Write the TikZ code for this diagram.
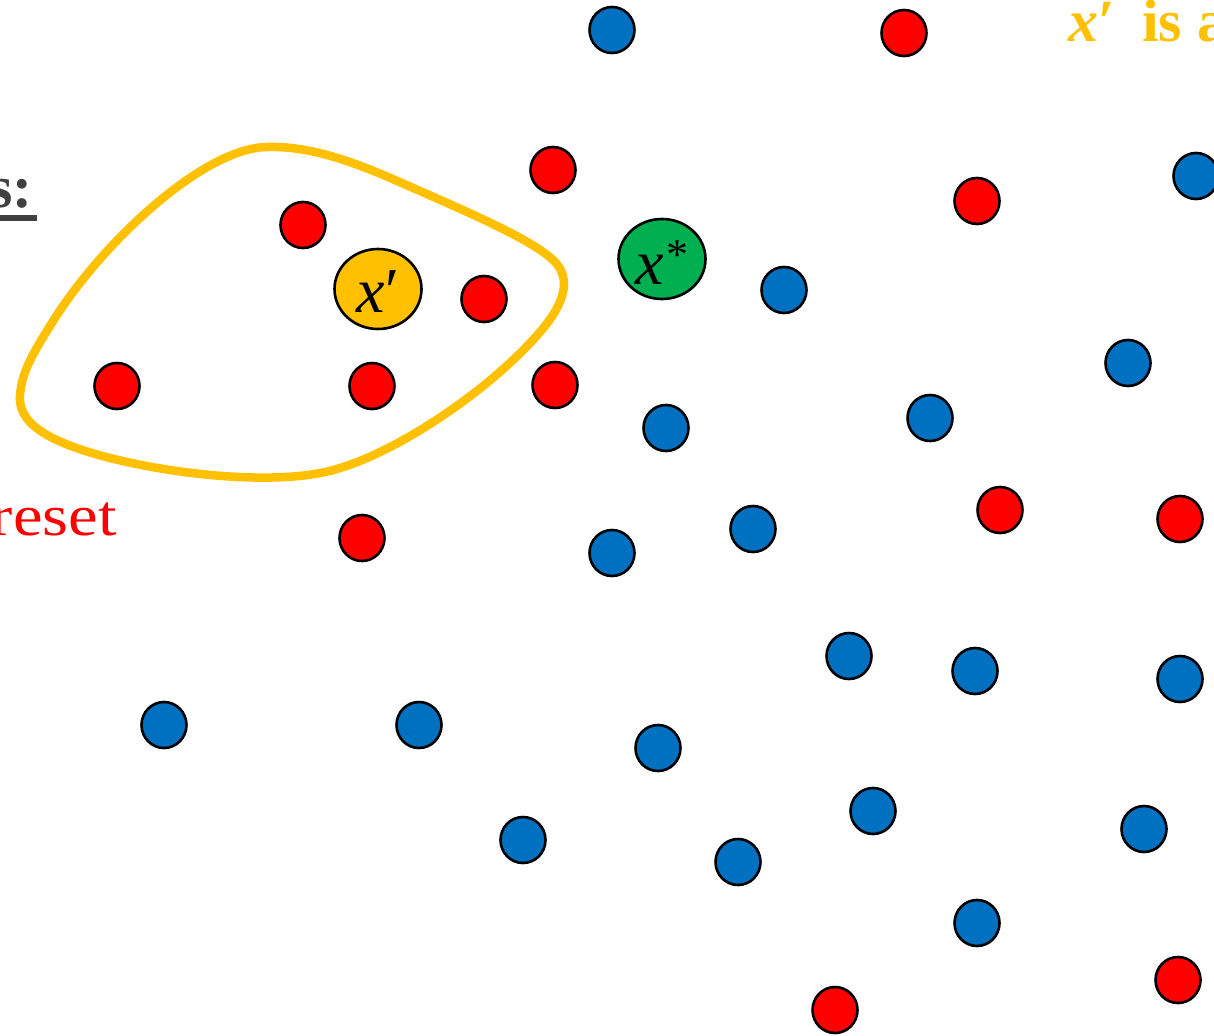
\documentclass[tikz,border=0pt]{standalone}
\usepackage{fontspec}
\setmainfont{Liberation Serif}
\usetikzlibrary{shapes.geometric}
\definecolor{dotred}{HTML}{FF0000}
\definecolor{dotblue}{HTML}{0070C0}
\definecolor{dotgreen}{HTML}{00B050}
\definecolor{gold}{HTML}{FFC000}
\definecolor{darkgray}{HTML}{404040}
\begin{document}
\begin{tikzpicture}[x=1pt,y=-1pt,
  dot/.style={ellipse, draw=black, line width=2.6pt, minimum width=45pt, minimum height=46pt, inner sep=0pt, outer sep=0pt},
  rdot/.style={dot, fill=dotred},
  bdot/.style={dot, fill=dotblue},
  bigdot/.style={ellipse, draw=black, line width=2.6pt, minimum width=87pt, minimum height=80pt, inner sep=0pt, font=\fontsize{64}{64}\selectfont},
  blob/.style={draw=gold, line width=8.5pt},
  bigtext/.style={inner sep=0pt, font=\fontsize{60}{60}\selectfont}
]
\useasboundingbox (0,0) rectangle (1214,1035);

% enclosing curve
\draw[blob] (268,147)
  .. controls (305,146) and (345,158) .. (395,180)
  .. controls (465,211) and (535,240) .. (556,263)
  .. controls (570,279) and (566,302) .. (540,332)
  .. controls (490,390) and (400,450) .. (340,468)
  .. controls (290,485) and (190,478) .. (110,458)
  .. controls (40,440) and (18,420) .. (20,395)
  .. controls (22,370) and (35,350) .. (55,318)
  .. controls (105,240) and (205,147) .. (268,147) -- cycle;

% red dots
\node[rdot] (r1) at (904,33) {};
\node[rdot] (r2) at (553,170) {};
\node[rdot] (r3) at (303,225) {};
\node[rdot] (r4) at (484,299) {};
\node[rdot] (r5) at (117,386) {};
\node[rdot] (r6) at (372,386) {};
\node[rdot] (r7) at (555,385) {};
\node[rdot] (r8) at (977,201) {};
\node[rdot] (r9) at (1000,510) {};
\node[rdot] (r10) at (1180,519) {};
\node[rdot] (r11) at (362,538) {};
\node[rdot] (r12) at (1178,980) {};
\node[rdot] (r13) at (835,1010) {};

% blue dots
\node[bdot] (b1) at (612,30) {};
\node[bdot] (b2) at (1196,176) {};
\node[bdot] (b3) at (784,290) {};
\node[bdot] (b4) at (1128,363) {};
\node[bdot] (b5) at (666,428) {};
\node[bdot] (b6) at (930,418) {};
\node[bdot] (b7) at (612,553) {};
\node[bdot] (b8) at (753,529) {};
\node[bdot] (b9) at (849,656) {};
\node[bdot] (b10) at (975,671) {};
\node[bdot] (b11) at (1180,679) {};
\node[bdot] (b12) at (164,725) {};
\node[bdot] (b13) at (419,725) {};
\node[bdot] (b14) at (658,748) {};
\node[bdot] (b15) at (873,811) {};
\node[bdot] (b16) at (1144,829) {};
\node[bdot] (b17) at (523,840) {};
\node[bdot] (b18) at (738,862) {};
\node[bdot] (b19) at (977,923) {};

% special points
\node[bigdot, fill=gold] (xp) at (378,289) {\rule{0pt}{46pt}\textit{x}′};
\node[bigdot, fill=dotgreen] (xs) at (662,259)
  {\rule{0pt}{50pt}\textit{x}\kern2pt\raisebox{15pt}{\fontsize{44}{44}\selectfont *}};

% texts
\node[bigtext, text=gold, anchor=base west] (title) at (1068,42)
  {\textbf{\textit{x}}\textbf{′}\hspace{27pt}\textbf{is a}};
\node[bigtext, text=darkgray, anchor=base east] (slab) at (37,207)
  {\textbf{s:}\hspace{4pt}\llap{\rule[-14pt]{80pt}{6pt}}};
\node[bigtext, text=dotred, anchor=base east, font=\fontsize{58}{60}\selectfont] (reset) at (117,535)
  {\scalebox{1.15}[1]{reset}};
\end{tikzpicture}
\end{document}
